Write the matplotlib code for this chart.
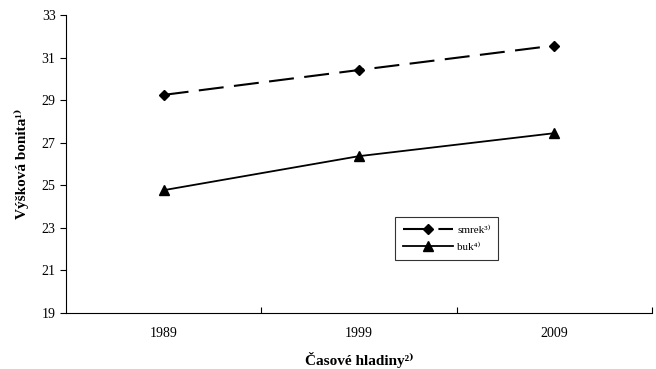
import matplotlib
matplotlib.use("Agg")
import matplotlib.pyplot as plt

plt.rcParams['font.family'] = ['Liberation Serif', 'DejaVu Serif']

years = ['1989', '1999', '2009']
smrek = [29.25, 30.42, 31.57]
buk = [24.77, 26.37, 27.45]

fig = plt.figure(figsize=(6.56, 3.69), dpi=100)
ax = fig.add_axes([0.1006, 0.152, 0.8934, 0.807])

x = list(range(len(years)))
ax.plot(x, smrek, color='black', linestyle=(0, (12, 5)), linewidth=1.5,
        marker='D', markersize=5, label='smrek³⁾')
ax.plot(x, buk, color='black', linestyle='-', linewidth=1.3,
        marker='^', markersize=7, label='buk⁴⁾')

ax.set_xlim(-0.5, 2.5)
ax.set_ylim(19, 33)
ax.set_yticks(range(19, 34, 2))
ax.set_xticks([0.5, 1.5, 2.5])
ax.set_xticklabels([])
ax.set_xticks(x, minor=True)
ax.set_xticklabels(years, minor=True)
ax.tick_params(axis='x', which='minor', length=0, pad=10, labelsize=10)
ax.tick_params(axis='x', which='major', length=4, direction='in', width=0.8)
ax.tick_params(axis='y', length=4, direction='out', width=0.8, labelsize=10)

ax.spines['top'].set_visible(False)
ax.spines['right'].set_visible(False)

ax.set_ylabel('Výšková bonita¹⁾', fontsize=11, fontweight='bold', labelpad=9)
ax.set_xlabel('Časové hladiny²⁾', fontsize=11, fontweight='bold', labelpad=9)

leg = ax.legend(loc='upper left', bbox_to_anchor=(0.552, 0.34), fontsize=8,
                frameon=True, fancybox=False, edgecolor='black', handlelength=4.5,
                borderpad=0.7, handletextpad=0.4, labelspacing=0.7)
leg.get_frame().set_linewidth(0.8)

fig.savefig('out.png', dpi=100)
